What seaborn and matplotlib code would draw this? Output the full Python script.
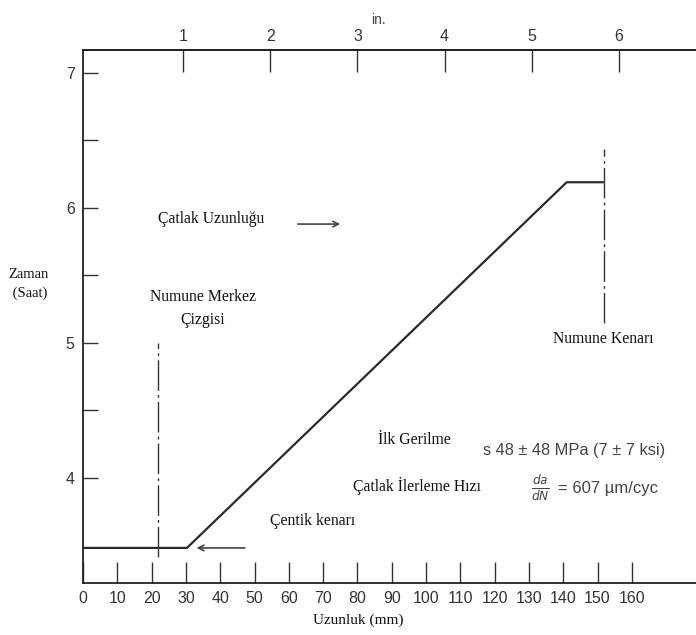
import matplotlib
matplotlib.use("Agg")
import matplotlib.pyplot as plt
import seaborn as sns
import pandas as pd

# ---- data ----
crack_len_mm = [0.0, 30.3, 141.0, 151.6]
time_h = [3.48, 3.48, 6.19, 6.19]
x_ticks_mm = [0, 10, 20, 30, 40, 50, 60, 70, 80, 90, 100, 110, 120, 130, 140, 150, 160]
y_ticks_h = [4, 5, 6, 7]
y_minor_h = [4.5, 5.5, 6.5]
in_ticks = [1, 2, 3, 4, 5, 6]
in_offset_mm = 3.8
center_line_mm = 21.9
center_line_y = [3.41, 5.0]
edge_line_mm = 152.0
edge_line_y = [5.15, 6.44]

sns.set_style("ticks")
plt.rcParams['font.family'] = ['Liberation Serif', 'DejaVu Serif']

df = pd.DataFrame({"mm": crack_len_mm, "h": time_h})

fig = plt.figure(figsize=(6.96, 6.35), dpi=100)
ax = fig.add_axes([83/696, 1-583/635, 1-83/696, (583-50)/635])

sns.lineplot(data=df, x="mm", y="h", sort=False, ax=ax, color="#2a2a2a", lw=1.6)

ax.set_xlim(0, 178.7)
ax.set_ylim(3.22, 7.17)

# reference lines
dash = (0, (22, 3, 2, 3))
ax.plot([center_line_mm]*2, center_line_y, color="#333333", lw=1.0, linestyle=dash)
ax.plot([edge_line_mm]*2, edge_line_y, color="#333333", lw=1.0, linestyle=dash)

# spines
sns.despine(ax=ax, top=False, right=True)
for s in ["left", "bottom", "top"]:
    ax.spines[s].set_color("#222222")
    ax.spines[s].set_linewidth(1.3)

tickfont = dict(family="Liberation Sans", size=11.5, color="#333333")
ax.set_xticks(x_ticks_mm)
ax.set_xticklabels([str(v) for v in x_ticks_mm], **tickfont)
ax.set_yticks(y_ticks_h)
ax.set_yticklabels([str(v) for v in y_ticks_h], **tickfont)
ax.set_yticks(y_minor_h, minor=True)
ax.tick_params(axis="x", direction="in", length=15, width=1.0, color="#333333", pad=6)
ax.tick_params(axis="y", which="both", direction="in", length=11, width=1.0, color="#333333", pad=6)
ax.set_xlabel("")
ax.set_ylabel("")

# top inch axis
sec = ax.secondary_xaxis("top", functions=(lambda m: (m - in_offset_mm) / 25.4,
                                            lambda i: i * 25.4 + in_offset_mm))
sec.set_xticks(in_ticks)
sec.set_xticklabels([str(v) for v in in_ticks], **tickfont)
sec.tick_params(direction="in", length=16, width=1.0, color="#333333", pad=4)
sec.spines["top"].set_linewidth(1.3)
sec.spines["top"].set_color("#222222")

# annotations
fs = 11.3
tc = "#111111"
ax.text(21.9, 5.92, "Çatlak Uzunluğu", fontsize=fs, color=tc, va="center", ha="left")
ax.annotate("", xy=(75.8, 5.88), xytext=(61.8, 5.88),
            arrowprops=dict(arrowstyle="->", color="#444444", lw=1.2))
ax.text(35.0, 5.34, "Numune Merkez", fontsize=fs, color=tc, va="center", ha="center")
ax.text(35.0, 5.17, "Çizgisi", fontsize=fs, color=tc, va="center", ha="center")
ax.text(151.6, 5.03, "Numune Kenarı", fontsize=fs, color=tc, va="center", ha="center")
ax.text(86.0, 4.28, "İlk Gerilme", fontsize=fs, color=tc, va="center", ha="left")
ax.text(78.7, 3.94, "Çatlak İlerleme Hızı", fontsize=fs, color=tc, va="center", ha="left")
ax.text(54.5, 3.68, "Çentik kenarı", fontsize=fs, color=tc, va="center", ha="left")
ax.annotate("", xy=(32.3, 3.48), xytext=(48.0, 3.48),
            arrowprops=dict(arrowstyle="->", color="#444444", lw=1.2))

sans = dict(family="Liberation Sans", color="#444444")
ax.text(116.6, 4.205, "s 48 ± 48 MPa (7 ± 7 ksi)", fontsize=11.8, va="center", ha="left", **sans)
ax.text(133.2, 3.92, r"$\frac{da}{dN}$", fontsize=12.5, va="center", ha="center", color="#444444")
ax.text(138.5, 3.92, "= 607 µm/cyc", fontsize=12, va="center", ha="left", **sans)

# axis titles
fig.text(28/696, 1-284/635, "Zaman\n (Saat)", fontsize=10.5, color=tc, ha="center", va="center",
         linespacing=1.5)
fig.text(358/696, 1-620/635, "Uzunluk (mm)", fontsize=11, color=tc, ha="center", va="center")
fig.text(378/696, 1-20/635, "in.", fontsize=10, ha="center", va="center",
         family="Liberation Sans", color="#444444")

fig.savefig("out.png", dpi=100)
